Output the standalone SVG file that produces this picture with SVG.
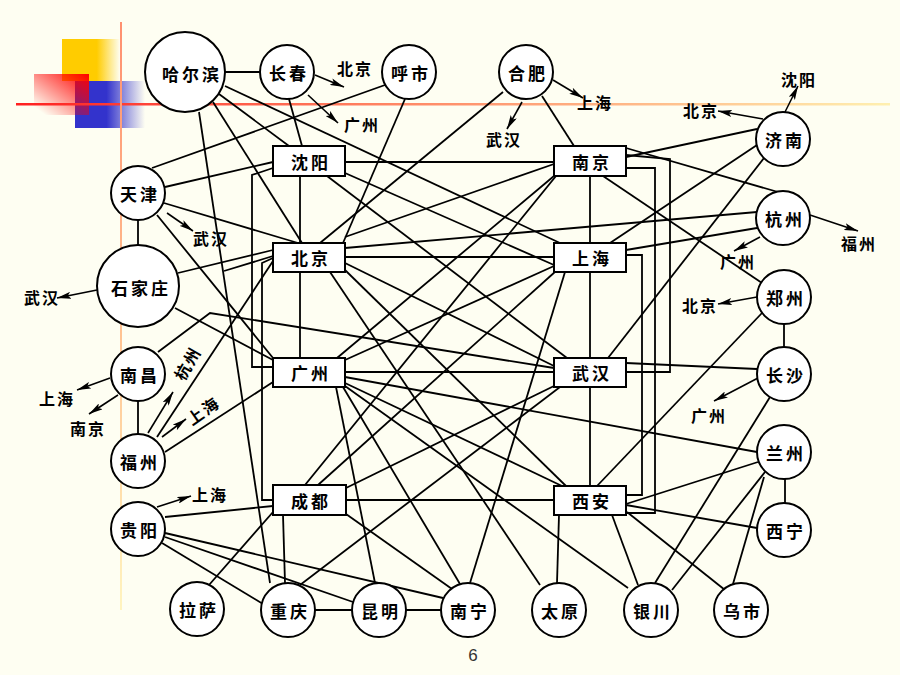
<svg xmlns="http://www.w3.org/2000/svg" width="900" height="675" viewBox="0 0 900 675">
<defs>
<linearGradient id="gY" x1="0" y1="0" x2="1" y2="0"><stop offset="0.6" stop-color="#FFCC00"/><stop offset="1" stop-color="#FFCC00" stop-opacity="0"/></linearGradient>
<linearGradient id="gB" x1="0" y1="0" x2="1" y2="0"><stop offset="0.45" stop-color="#3333CC"/><stop offset="1" stop-color="#3333CC" stop-opacity="0"/></linearGradient>
<linearGradient id="gR" x1="0" y1="1" x2="1" y2="0"><stop offset="0.1" stop-color="#FF0000" stop-opacity="0"/><stop offset="1" stop-color="#FF0000"/></linearGradient>
<linearGradient id="gH" x1="0" y1="0" x2="1" y2="0"><stop offset="0" stop-color="#FF2020"/><stop offset="0.4" stop-color="#FF8060"/><stop offset="1" stop-color="#FFF0B0"/></linearGradient>
<linearGradient id="gV" x1="0" y1="0" x2="0" y2="1"><stop offset="0" stop-color="#FF9070"/><stop offset="0.5" stop-color="#FFC090"/><stop offset="1" stop-color="#FFF4C0"/></linearGradient>
<marker id="ah" markerUnits="userSpaceOnUse" markerWidth="15" markerHeight="7" refX="14" refY="3.5" orient="auto"><path d="M0,0 L14,3.5 L0,7 L3,3.5 z" fill="#000"/></marker>
<style>
.n{fill:#fff;stroke:#000;stroke-width:2}
.e{fill:none;stroke:#000;stroke-width:1.8}
.a{fill:none;stroke:#000;stroke-width:1.6;marker-end:url(#ah)}
.t{font-family:"Noto Sans CJK SC","Noto Sans CJK JP",sans-serif;font-size:17px;font-weight:bold;text-anchor:middle;dominant-baseline:central;letter-spacing:3px;fill:#000}
.l{font-family:"Noto Sans CJK SC","Noto Sans CJK JP",sans-serif;font-size:16px;font-weight:bold;text-anchor:middle;dominant-baseline:central;letter-spacing:2px;fill:#000}
</style>
</defs>
<rect width="900" height="675" fill="#FEFEF2"/>
<g id="decor">
<rect x="62" y="39" width="58" height="42" fill="url(#gY)"/>
<rect x="75" y="81" width="70" height="47" fill="url(#gB)"/>
<rect x="34" y="74" width="55" height="41" fill="url(#gR)"/>
<rect x="16" y="103" width="874" height="2.5" fill="url(#gH)"/>
<rect x="120" y="22" width="2" height="588" fill="url(#gV)"/>
</g>
<g id="connectors">
<line class="e" x1="225" y1="72" x2="260" y2="72"/>
<line class="e" x1="289" y1="99" x2="302" y2="146"/>
<line class="e" x1="219" y1="94" x2="289" y2="146"/>
<line class="e" x1="213" y1="102" x2="302" y2="243"/>
<line class="e" x1="199" y1="112" x2="270" y2="583"/>
<polyline class="e" points="273,256 224,271"/>
<line class="e" x1="225" y1="86" x2="560" y2="243"/>
<line class="e" x1="152" y1="168" x2="385" y2="85"/>
<line class="e" x1="405" y1="99" x2="343" y2="243"/>
<line class="e" x1="165" y1="187" x2="273" y2="162"/>
<line class="e" x1="164" y1="203" x2="298" y2="243"/>
<line class="e" x1="157" y1="215" x2="273" y2="358"/>
<line class="e" x1="138" y1="220" x2="138" y2="245"/>
<line class="e" x1="178" y1="273" x2="273" y2="250"/>
<line class="e" x1="175" y1="308" x2="273" y2="360"/>
<polyline class="e" points="158,352 210,313 554,368"/>
<line class="e" x1="138" y1="401" x2="138" y2="434"/>
<line class="e" x1="157" y1="437" x2="273" y2="261"/>
<line class="e" x1="165" y1="452" x2="273" y2="382"/>
<line class="e" x1="165" y1="517" x2="273" y2="506"/>
<line class="e" x1="162" y1="543" x2="263" y2="604"/>
<line class="e" x1="165" y1="537" x2="353" y2="602"/>
<line class="e" x1="165" y1="533" x2="443" y2="598"/>
<line class="e" x1="209" y1="585" x2="273" y2="512"/>
<line class="e" x1="315" y1="610" x2="352" y2="610"/>
<line class="e" x1="406" y1="610" x2="441" y2="610"/>
<line class="e" x1="283" y1="515" x2="285" y2="583"/>
<line class="e" x1="336" y1="387" x2="375" y2="583"/>
<line class="e" x1="300" y1="585" x2="560" y2="387"/>
<line class="e" x1="346" y1="500" x2="554" y2="500"/>
<line class="e" x1="346" y1="514" x2="452" y2="589"/>
<line class="e" x1="470" y1="583" x2="565" y2="272"/>
<line class="e" x1="345" y1="372" x2="554" y2="372"/>
<line class="e" x1="345" y1="377" x2="757" y2="452"/>
<line class="e" x1="345" y1="383" x2="562" y2="486"/>
<line class="e" x1="345" y1="386" x2="628" y2="588"/>
<line class="e" x1="343" y1="387" x2="460" y2="584"/>
<line class="e" x1="330" y1="272" x2="540" y2="585"/>
<line class="e" x1="345" y1="270" x2="566" y2="486"/>
<line class="e" x1="345" y1="263" x2="554" y2="366"/>
<line class="e" x1="345" y1="257" x2="554" y2="257"/>
<line class="e" x1="345" y1="248" x2="757" y2="212"/>
<line class="e" x1="345" y1="237" x2="554" y2="164"/>
<line class="e" x1="300" y1="272" x2="300" y2="358"/>
<line class="e" x1="300" y1="176" x2="300" y2="243"/>
<line class="e" x1="345" y1="162" x2="554" y2="162"/>
<line class="e" x1="345" y1="173" x2="554" y2="265"/>
<line class="e" x1="327" y1="176" x2="567" y2="358"/>
<line class="e" x1="503" y1="92" x2="320" y2="243"/>
<line class="e" x1="542" y1="96" x2="574" y2="146"/>
<line class="e" x1="337" y1="358" x2="554" y2="176"/>
<line class="e" x1="345" y1="360" x2="554" y2="266"/>
<line class="e" x1="305" y1="485" x2="556" y2="176"/>
<line class="e" x1="318" y1="485" x2="556" y2="271"/>
<line class="e" x1="346" y1="488" x2="554" y2="386"/>
<line class="e" x1="590" y1="176" x2="590" y2="243"/>
<line class="e" x1="590" y1="272" x2="590" y2="358"/>
<line class="e" x1="590" y1="387" x2="590" y2="486"/>
<line class="e" x1="626" y1="157" x2="757" y2="129"/>
<line class="e" x1="626" y1="148" x2="778" y2="192"/>
<line class="e" x1="603" y1="176" x2="762" y2="283"/>
<line class="e" x1="757" y1="145" x2="610" y2="243"/>
<line class="e" x1="764" y1="158" x2="608" y2="358"/>
<line class="e" x1="626" y1="250" x2="757" y2="228"/>
<line class="e" x1="762" y1="313" x2="597" y2="486"/>
<line class="e" x1="784" y1="324" x2="784" y2="347"/>
<line class="e" x1="626" y1="363" x2="757" y2="369"/>
<line class="e" x1="770" y1="397" x2="655" y2="583"/>
<line class="e" x1="758" y1="462" x2="626" y2="504"/>
<line class="e" x1="765" y1="472" x2="672" y2="590"/>
<line class="e" x1="764" y1="477" x2="733" y2="584"/>
<line class="e" x1="785" y1="479" x2="785" y2="503"/>
<line class="e" x1="757" y1="528" x2="626" y2="505"/>
<line class="e" x1="559" y1="515" x2="557" y2="583"/>
<line class="e" x1="612" y1="515" x2="638" y2="585"/>
<line class="e" x1="627" y1="512" x2="725" y2="590"/>
<polyline class="e" points="626,155 670,159 670,372 626,372"/>
<polyline class="e" points="626,168 655,168 655,513 626,513"/>
<polyline class="e" points="626,255 642,255 642,495 626,495"/>
<polyline class="e" points="273,168 252,175 252,367 273,367"/>
<polyline class="e" points="273,258 262,263 262,500 273,500"/>
<line class="a" x1="315" y1="75" x2="344" y2="87"/>
<line class="a" x1="308" y1="95" x2="338" y2="123"/>
<line class="a" x1="553" y1="80" x2="583" y2="98"/>
<line class="a" x1="522" y1="102" x2="507" y2="129"/>
<line class="a" x1="763" y1="119" x2="718" y2="111"/>
<line class="a" x1="785" y1="112" x2="798" y2="86"/>
<line class="a" x1="810" y1="215" x2="858" y2="231"/>
<line class="a" x1="760" y1="237" x2="734" y2="251"/>
<line class="a" x1="757" y1="297" x2="718" y2="304"/>
<line class="a" x1="758" y1="378" x2="714" y2="401"/>
<line class="a" x1="167" y1="213" x2="193" y2="231"/>
<line class="a" x1="97" y1="290" x2="57" y2="298"/>
<line class="a" x1="110" y1="378" x2="77" y2="390"/>
<line class="a" x1="118" y1="395" x2="89" y2="414"/>
<line class="a" x1="148" y1="433" x2="173" y2="392"/>
<line class="a" x1="162" y1="437" x2="186" y2="419"/>
<line class="a" x1="157" y1="507" x2="191" y2="496"/>
</g>
<g id="arrow-labels">
<text class="l" x="355" y="68">北京</text>
<text class="l" x="362" y="124">广州</text>
<text class="l" x="595" y="102">上海</text>
<text class="l" x="504" y="139">武汉</text>
<text class="l" x="701" y="110">北京</text>
<text class="l" x="799" y="79">沈阳</text>
<text class="l" x="859" y="243">福州</text>
<text class="l" x="738" y="261">广州</text>
<text class="l" x="700" y="305">北京</text>
<text class="l" x="709" y="415">广州</text>
<text class="l" x="211" y="238">武汉</text>
<text class="l" x="42" y="297">武汉</text>
<text class="l" x="57" y="398">上海</text>
<text class="l" x="88" y="428">南京</text>
<text class="l" x="187" y="363" transform="rotate(-60 187 363)">杭州</text>
<text class="l" x="203" y="410" transform="rotate(-35 203 410)">上海</text>
<text class="l" x="210" y="494">上海</text>
</g>
<g id="n-haerbin"><circle class="n" cx="185" cy="72" r="40"/><text class="t" x="192" y="73">哈尔滨</text></g>
<g id="n-changchun"><circle class="n" cx="287" cy="72" r="27"/><text class="t" x="289" y="72">长春</text></g>
<g id="n-huhehaote"><circle class="n" cx="409" cy="72" r="27"/><text class="t" x="411" y="72">呼市</text></g>
<g id="n-hefei"><circle class="n" cx="526" cy="72" r="27"/><text class="t" x="528" y="72">合肥</text></g>
<g id="n-jinan"><circle class="n" cx="783" cy="139" r="27"/><text class="t" x="785" y="139">济南</text></g>
<g id="n-tianjin"><circle class="n" cx="138" cy="193" r="27"/><text class="t" x="140" y="193">天津</text></g>
<g id="n-hangzhou"><circle class="n" cx="783" cy="218" r="27"/><text class="t" x="785" y="218">杭州</text></g>
<g id="n-shijiazhuang"><circle class="n" cx="138" cy="286" r="41"/><text class="t" x="141" y="287">石家庄</text></g>
<g id="n-zhengzhou"><circle class="n" cx="784" cy="297" r="27"/><text class="t" x="786" y="297">郑州</text></g>
<g id="n-nanchang"><circle class="n" cx="138" cy="374" r="27"/><text class="t" x="140" y="374">南昌</text></g>
<g id="n-changsha"><circle class="n" cx="784" cy="374" r="27"/><text class="t" x="786" y="374">长沙</text></g>
<g id="n-fuzhou"><circle class="n" cx="138" cy="461" r="27"/><text class="t" x="140" y="461">福州</text></g>
<g id="n-lanzhou"><circle class="n" cx="784" cy="452" r="27"/><text class="t" x="786" y="452">兰州</text></g>
<g id="n-guiyang"><circle class="n" cx="138" cy="529" r="27"/><text class="t" x="140" y="529">贵阳</text></g>
<g id="n-xining"><circle class="n" cx="784" cy="530" r="27"/><text class="t" x="786" y="530">西宁</text></g>
<g id="n-lasa"><circle class="n" cx="197" cy="609" r="27"/><text class="t" x="199" y="609">拉萨</text></g>
<g id="n-chongqing"><circle class="n" cx="288" cy="610" r="27"/><text class="t" x="290" y="610">重庆</text></g>
<g id="n-kunming"><circle class="n" cx="379" cy="610" r="27"/><text class="t" x="381" y="610">昆明</text></g>
<g id="n-nanning"><circle class="n" cx="468" cy="610" r="27"/><text class="t" x="470" y="610">南宁</text></g>
<g id="n-taiyuan"><circle class="n" cx="559" cy="610" r="27"/><text class="t" x="561" y="610">太原</text></g>
<g id="n-yinchuan"><circle class="n" cx="651" cy="610" r="27"/><text class="t" x="653" y="610">银川</text></g>
<g id="n-wulumuqi"><circle class="n" cx="741" cy="610" r="27"/><text class="t" x="743" y="610">乌市</text></g>
<g id="n-shenyang"><rect class="n" x="273" y="146" width="72" height="30"/><text class="t" x="311" y="161">沈阳</text></g>
<g id="n-nanjing"><rect class="n" x="554" y="146" width="72" height="30"/><text class="t" x="592" y="161">南京</text></g>
<g id="n-beijing"><rect class="n" x="273" y="243" width="72" height="29"/><text class="t" x="311" y="257">北京</text></g>
<g id="n-shanghai"><rect class="n" x="554" y="243" width="72" height="29"/><text class="t" x="592" y="257">上海</text></g>
<g id="n-guangzhou"><rect class="n" x="273" y="358" width="72" height="29"/><text class="t" x="311" y="372">广州</text></g>
<g id="n-wuhan"><rect class="n" x="554" y="358" width="72" height="29"/><text class="t" x="592" y="372">武汉</text></g>
<g id="n-chengdu"><rect class="n" x="273" y="485" width="73" height="30"/><text class="t" x="311" y="500">成都</text></g>
<g id="n-xian"><rect class="n" x="554" y="486" width="72" height="29"/><text class="t" x="592" y="500">西安</text></g>
<text x="473" y="661" font-family="Liberation Sans, Arial, sans-serif" font-size="17" text-anchor="middle" fill="#333">6</text>
</svg>
